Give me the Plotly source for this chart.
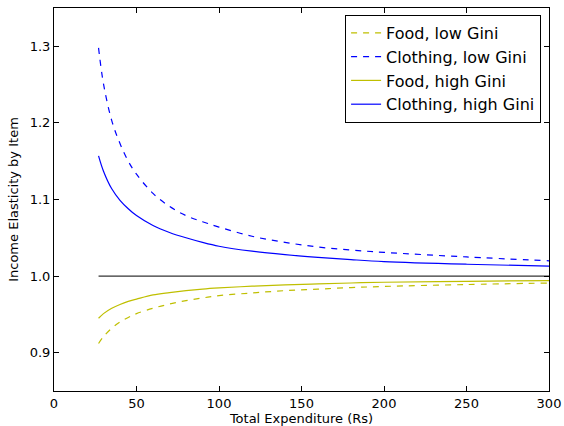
import plotly.graph_objects as go

expenditure = [27, 30, 35, 40, 45, 50, 60, 70, 80, 90, 100, 120, 140, 160, 180, 200, 250, 300]

food_low_gini = [0.912, 0.921, 0.932, 0.940, 0.946, 0.951, 0.958, 0.9635, 0.968, 0.9715,
                 0.9745, 0.978, 0.981, 0.983, 0.985, 0.9865, 0.989, 0.991]
clothing_low_gini = [1.298, 1.251, 1.203, 1.173, 1.150, 1.133, 1.108, 1.091, 1.079, 1.071,
                     1.064, 1.052, 1.044, 1.038, 1.034, 1.031, 1.025, 1.020]
food_high_gini = [0.945, 0.951, 0.958, 0.963, 0.967, 0.970, 0.9755, 0.9785, 0.981, 0.983,
                  0.9845, 0.9868, 0.9885, 0.9898, 0.991, 0.992, 0.9932, 0.9941]
clothing_high_gini = [1.157, 1.137, 1.114, 1.099, 1.088, 1.079, 1.066, 1.057, 1.050, 1.044,
                      1.039, 1.0325, 1.028, 1.0245, 1.0215, 1.019, 1.0155, 1.013]
unit_line = [1.0] * len(expenditure)

x_ticks = [0, 50, 100, 150, 200, 250, 300]
y_ticks = [0.9, 1.0, 1.1, 1.2, 1.3]

YELLOW = "#bfbf00"
BLUE = "#0000ff"
FONT = "DejaVu Sans"

fig = go.Figure()
fig.add_trace(go.Scatter(x=expenditure, y=unit_line, mode="lines",
                         line=dict(color="black", width=1), showlegend=False))
series = [
    ("Food, low Gini", food_low_gini, YELLOW, "6px,6px"),
    ("Clothing, low Gini", clothing_low_gini, BLUE, "6px,6px"),
    ("Food, high Gini", food_high_gini, YELLOW, "solid"),
    ("Clothing, high Gini", clothing_high_gini, BLUE, "solid"),
]
for name, vals, color, dash in series:
    fig.add_trace(go.Scatter(x=expenditure, y=vals, mode="lines", name=name,
                             line=dict(color=color, width=1.2, dash=dash, shape="spline")))

axis_common = dict(showline=True, linecolor="black", linewidth=1, mirror="ticks",
                   ticks="inside", ticklen=5, tickcolor="black", showgrid=False,
                   zeroline=False, automargin=False,
                   tickfont=dict(family=FONT, size=13, color="black"))

fig.update_layout(
    width=564, height=426,
    margin=dict(l=54, r=15, t=8, b=35),
    plot_bgcolor="white", paper_bgcolor="white",
    font=dict(family=FONT, size=13, color="black"),
    xaxis=dict(range=[0, 300], tickvals=x_ticks,
               title=dict(text="Total Expenditure (Rs)", font=dict(family=FONT, size=13), standoff=2),
               **axis_common),
    yaxis=dict(range=[0.85, 1.35], tickvals=y_ticks, tickformat=".1f",
               title=dict(text="Income Elasticity by Item", font=dict(family=FONT, size=13), standoff=8),
               **axis_common),
    legend=dict(x=0.984, y=0.982, xanchor="right", yanchor="top",
                bordercolor="black", borderwidth=1, bgcolor="white",
                font=dict(family=FONT, size=16), tracegroupgap=0),
)

fig.write_html("out.html")
